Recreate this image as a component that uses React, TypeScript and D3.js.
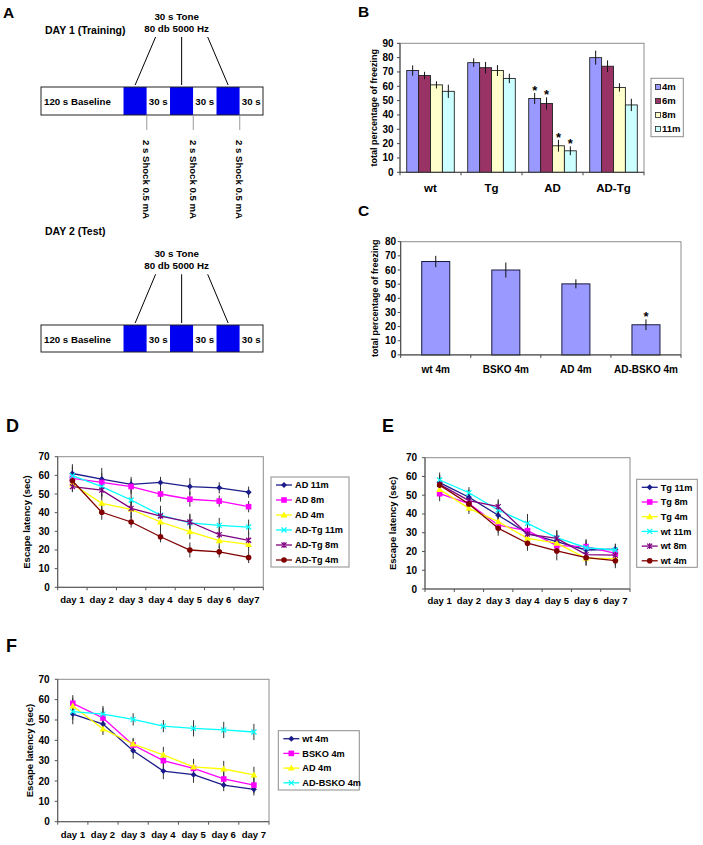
import React from "react";
import * as d3 from "d3";

const FONT = "'Liberation Sans', Arial, Helvetica, sans-serif";

// ---------- Panel A (protocol schematic) ----------
const protocolSegments = ["120 s Baseline", "tone", "30 s", "tone", "30 s", "tone", "30 s"];
const protocolWeights = [3.55, 1, 1, 1, 1, 1, 1];
const toneLines = ["30 s Tone", "80 db 5000 Hz"];
const shockLabel = "2 s Shock 0.5 mA";
const day1Title = "DAY 1 (Training)";
const day2Title = "DAY 2 (Test)";

// ---------- Panel B ----------
const bGroups = ["wt", "Tg", "AD", "AD-Tg"];
const bAges = ["4m", "6m", "8m", "11m"];
const b4m = [71, 76.5, 51.5, 80];
const b6m = [67.5, 73, 48, 74];
const b8m = [61, 71, 18.5, 59.2];
const b11m = [56.5, 65.5, 15, 47];
const b4mErr = [3.6, 3, 3.9, 4.9];
const b6mErr = [2.6, 4, 4.3, 4.1];
const b8mErr = [2.5, 3.8, 4.1, 2.9];
const b11mErr = [4.6, 3.3, 3.1, 4.3];
const bStarGroup = "AD";
const bColors = ["#9999FF", "#993366", "#FFFFCC", "#CCFFFF"];
const bTicks = [0, 10, 20, 30, 40, 50, 60, 70, 80, 90];

// ---------- Panel C ----------
const cGroups = ["wt 4m", "BSKO 4m", "AD 4m", "AD-BSKO 4m"];
const cValues = [66, 60, 50.2, 21.3];
const cErr = [4, 5.3, 3.2, 3.8];
const cStars = [false, false, false, true];
const cTicks = [0, 10, 20, 30, 40, 50, 60, 70, 80];

// ---------- Line panels ----------
const daysD = ["day 1", "day 2", "day 3", "day 4", "day 5", "day 6", "day7"];
const daysEF = ["day 1", "day 2", "day 3", "day 4", "day 5", "day 6", "day 7"];
const latencyTicks = [0, 10, 20, 30, 40, 50, 60, 70];

// Panel D
const dNames = ["AD 11m", "AD 8m", "AD 4m", "AD-Tg 11m", "AD-Tg 8m", "AD-Tg 4m"];
const dAD11 = [61, 58, 55.2, 56.2, 54, 53.3, 51];
const dAD8 = [58.4, 56.2, 54, 50, 47.2, 46.2, 43.2];
const dAD4 = [55.4, 45, 41.8, 35, 29.8, 25, 23];
const dADTg11 = [59.8, 54, 46.8, 38.7, 34.5, 33.2, 32.3];
const dADTg8 = [54, 52.1, 42.3, 38.2, 35, 28.2, 25.2];
const dADTg4 = [57.1, 40.2, 35, 27.1, 20, 19, 16];
const dAD11Err = [5, 6, 4, 3, 4.5, 3, 3];
const dAD8Err = [4, 5, 4, 4, 4, 3, 3];
const dAD4Err = [4, 5, 5, 5, 4, 4, 4];
const dADTg11Err = [5, 5, 5, 5, 5, 4, 4];
const dADTg8Err = [3, 4, 5, 4, 4, 4, 4];
const dADTg4Err = [4, 4, 3, 3, 4, 3, 3];

// Panel E
const eNames = ["Tg 11m", "Tg 8m", "Tg 4m", "wt 11m", "wt 8m", "wt 4m"];
const eTg11 = [56.7, 48.9, 39.3, 29.7, 25.2, 20.8, 21.2];
const eTg8 = [50.8, 45.5, 34, 31.1, 23.1, 22.6, 19];
const eTg4 = [53.1, 43, 35.9, 27, 24.4, 16.4, 16.2];
const eWt11 = [58.1, 51.3, 42.1, 35, 27.4, 22, 20.8];
const eWt8 = [55.8, 47.1, 43.9, 29.3, 27, 18.3, 18.1];
const eWt4 = [55.4, 45.3, 32.4, 24.4, 20.3, 16.7, 15.1];
const eTg11Err = [4, 4, 4, 4, 4, 4, 3];
const eTg8Err = [4, 4, 4, 4, 4, 4, 4];
const eTg4Err = [4, 3, 4, 4, 4, 4, 4];
const eWt11Err = [4, 3, 5, 5, 4, 4, 3];
const eWt8Err = [4, 4, 4, 4, 4, 4, 4];
const eWt4Err = [5, 4, 4, 4, 5, 4, 4];

// Panel F
const fNames = ["wt 4m", "BSKO 4m", "AD 4m", "AD-BSKO 4m"];
const fWt = [52.9, 48, 34.9, 24.9, 23.1, 18, 15.9];
const fBsko = [58.2, 51, 37.7, 30, 26.2, 21, 18];
const fAd = [56.9, 45.6, 38.2, 32.8, 26.9, 25.9, 23];
const fAdBsko = [54.1, 52.9, 50.3, 47, 45.9, 45.1, 44.1];
const fWtErr = [5, 4, 4, 4, 4, 3, 3];
const fBskoErr = [4, 5, 3, 4, 4, 4, 4];
const fAdErr = [4, 3, 3, 4, 4, 4, 4];
const fAdBskoErr = [4, 4, 3, 3, 4, 4, 4];

const lineColors = ["#1c1c8a", "#FF00FF", "#FFFF00", "#00FFFF", "#800080", "#800000"];
const lineMarkers = ["diamond", "square", "triangle", "x", "star", "circle"];

type Series = { name: string; values: number[]; errors: number[]; color: string; marker: string };

function Marker({ type, x, y, color }: { type: string; x: number; y: number; color: string }) {
  switch (type) {
    case "diamond":
      return <path d={`M${x},${y - 3}L${x + 3},${y}L${x},${y + 3}L${x - 3},${y}Z`} fill={color} />;
    case "square":
      return <rect x={x - 2.8} y={y - 2.8} width={5.6} height={5.6} fill={color} />;
    case "triangle":
      return <path d={`M${x},${y - 3.5}L${x + 3.5},${y + 2.5}L${x - 3.5},${y + 2.5}Z`} fill={color} />;
    case "x":
      return (
        <path d={`M${x - 2.5},${y - 2.5}L${x + 2.5},${y + 2.5}M${x - 2.5},${y + 2.5}L${x + 2.5},${y - 2.5}`} stroke={color} strokeWidth={1.2} />
      );
    case "star":
      return (
        <path
          d={`M${x - 2.5},${y - 2.5}L${x + 2.5},${y + 2.5}M${x - 2.5},${y + 2.5}L${x + 2.5},${y - 2.5}M${x},${y - 3}L${x},${y + 3}`}
          stroke={color}
          strokeWidth={1.2}
        />
      );
    case "circle":
      return <circle cx={x} cy={y} r={2.8} fill={color} />;
  }
  return null;
}

function Protocol({ y, h, title, titleY, toneY }: { y: number; h: number; title: string; titleY: number; toneY: number }) {
  const total = d3.sum(protocolWeights);
  const xs = d3.scaleLinear().domain([0, total]).range([41, 263]);
  let acc = 0;
  const segs = protocolSegments.map((s, i) => {
    const x0 = xs(acc);
    acc += protocolWeights[i];
    return { s, x0, x1: xs(acc) };
  });
  const blues = segs.filter((d) => d.s === "tone");
  const mid = (blues[1].x0 + blues[1].x1) / 2;
  return (
    <g fontFamily={FONT} fontWeight="bold">
      <text x={45} y={titleY} fontSize={10.5}>
        {title}
      </text>
      {toneLines.map((t, i) => (
        <text key={i} x={mid - 5} y={toneY + i * 11.6} textAnchor="middle" fontSize={9.8}>
          {t}
        </text>
      ))}
      {blues.map((b, i) => {
        const bc = (b.x0 + b.x1) / 2;
        return (
          <line key={i} x1={mid + (bc - mid) * 0.56} y1={toneY + 17} x2={bc} y2={y - 2} stroke="#000" strokeWidth={1} />
        );
      })}
      {segs.map((d, i) => (
        <rect key={i} x={d.x0} y={y} width={d.x1 - d.x0} height={h} fill={d.s === "tone" ? "#0000F0" : "#fff"} />
      ))}
      <rect x={41} y={y} width={222} height={h} fill="none" stroke="#222" strokeWidth={1} />
      {segs.map((d, i) =>
        d.s === "tone" ? null : (
          <text key={i} x={d.x0 + (i === 0 ? 3 : 2)} y={y + h / 2 + 4} fontSize={9.7}>
            {d.s}
          </text>
        )
      )}
    </g>
  );
}

function ShockMarks({ y, h }: { y: number; h: number }) {
  const total = d3.sum(protocolWeights);
  const xs = d3.scaleLinear().domain([0, total]).range([41, 263]);
  let acc = 0;
  const ends: number[] = [];
  protocolSegments.forEach((s, i) => {
    acc += protocolWeights[i];
    if (s === "tone") ends.push(xs(acc));
  });
  return (
    <g fontFamily={FONT} fontWeight="bold">
      {ends.map((e, i) => (
        <g key={i}>
          <line x1={e} x2={e} y1={y + h} y2={y + h + 15} stroke="#9a9a9a" strokeWidth={1} />
          <text transform={`translate(${e},${y + h + 25}) rotate(90)`} dy="0.35em" fontSize={9.6}>
            {shockLabel}
          </text>
        </g>
      ))}
    </g>
  );
}

function GroupedBars() {
  const left = 400, right = 644, top = 43.3, bottom = 172.3;
  const x0 = d3.scaleBand().domain(bGroups).range([left, right]).paddingInner(0.22).paddingOuter(0.11);
  const x1 = d3.scaleBand().domain(bAges).range([0, x0.bandwidth()]);
  const y = d3.scaleLinear().domain([0, 90]).range([bottom, top]);
  const vals = [b4m, b6m, b8m, b11m];
  const errs = [b4mErr, b6mErr, b8mErr, b11mErr];
  return (
    <g fontFamily={FONT} fontWeight="bold">
      <rect x={left} y={top} width={right - left} height={bottom - top} fill="#fff" stroke="#8c8c8c" />
      {bGroups.map((g, gi) =>
        bAges.map((a, ai) => {
          const bx = x0(g)! + x1(a)!;
          const v = vals[ai][gi];
          const e = errs[ai][gi];
          const cx = bx + x1.bandwidth() / 2;
          return (
            <g key={g + a}>
              <rect x={bx} y={y(v)} width={x1.bandwidth()} height={y(0) - y(v)} fill={bColors[ai]} stroke="#222" strokeWidth={0.9} />
              <line x1={cx} x2={cx} y1={y(v + e)} y2={y(v - e)} stroke="#111" strokeWidth={1} />
              {g === bStarGroup ? (
                <text x={cx} y={y(v + e) + 2} textAnchor="middle" fontSize={13}>
                  *
                </text>
              ) : null}
            </g>
          );
        })
      )}
      <line x1={left} x2={left} y1={top} y2={bottom} stroke="#444" />
      <line x1={left} x2={right} y1={bottom} y2={bottom} stroke="#444" />
      {bTicks.map((t) => (
        <g key={t}>
          <line x1={left - 3} x2={left} y1={y(t)} y2={y(t)} stroke="#444" />
          <text x={left - 6.5} y={y(t)} dy="0.35em" textAnchor="end" fontSize={10}>
            {t}
          </text>
        </g>
      ))}
      {d3.range(bGroups.length + 1).map((i) => {
        const xx = left + (right - left) * (i / bGroups.length);
        return <line key={i} x1={xx} x2={xx} y1={bottom} y2={bottom + 3} stroke="#444" />;
      })}
      {bGroups.map((g) => (
        <text key={g} x={x0(g)! + x0.bandwidth() / 2} y={192} textAnchor="middle" fontSize={11.5}>
          {g}
        </text>
      ))}
      <text transform={`translate(374,${(top + bottom) / 2}) rotate(-90)`} dy="0.35em" textAnchor="middle" fontSize={9}>
        total percentage of freezing
      </text>
      <rect x={651} y={78.3} width={32.3} height={58.4} fill="#fff" stroke="#8c8c8c" />
      {bAges.map((a, i) => (
        <g key={a}>
          <rect x={655.5} y={87 + i * 14 - 2.5} width={5} height={5} fill={bColors[i]} stroke="#222" strokeWidth={0.8} />
          <text x={662} y={87 + i * 14} dy="0.35em" fontSize={9.5}>
            {a}
          </text>
        </g>
      ))}
    </g>
  );
}

function SingleBars() {
  const left = 400.7, right = 681, top = 241.7, bottom = 354.9;
  const x = d3.scaleBand().domain(cGroups).range([left, right]).paddingInner(0.6).paddingOuter(0.3);
  const y = d3.scaleLinear().domain([0, 80]).range([bottom, top]);
  return (
    <g fontFamily={FONT} fontWeight="bold">
      <rect x={left} y={top} width={right - left} height={bottom - top} fill="#fff" stroke="#8c8c8c" />
      {cGroups.map((g, i) => {
        const cx = x(g)! + x.bandwidth() / 2;
        const v = cValues[i];
        const e = cErr[i];
        return (
          <g key={g}>
            <rect x={x(g)} y={y(v)} width={x.bandwidth()} height={y(0) - y(v)} fill="#9999FF" stroke="#1a1a40" strokeWidth={1} />
            <line x1={cx} x2={cx} y1={y(v + e)} y2={y(v - e)} stroke="#111" />
            {cStars[i] ? (
              <text x={cx} y={y(v + e) + 1.5} textAnchor="middle" fontSize={13}>
                *
              </text>
            ) : null}
          </g>
        );
      })}
      <line x1={left} x2={left} y1={top} y2={bottom} stroke="#444" />
      <line x1={left} x2={right} y1={bottom} y2={bottom} stroke="#444" />
      {cTicks.map((t) => (
        <g key={t}>
          <line x1={left - 3} x2={left} y1={y(t)} y2={y(t)} stroke="#444" />
          <text x={left - 4.5} y={y(t)} dy="0.35em" textAnchor="end" fontSize={10}>
            {t}
          </text>
        </g>
      ))}
      {d3.range(cGroups.length + 1).map((i) => {
        const xx = left + (right - left) * (i / cGroups.length);
        return <line key={i} x1={xx} x2={xx} y1={bottom} y2={bottom + 3} stroke="#444" />;
      })}
      {cGroups.map((g) => (
        <text key={g} x={x(g)! + x.bandwidth() / 2} y={bottom + 18} textAnchor="middle" fontSize={10}>
          {g}
        </text>
      ))}
      <text transform={`translate(375,${(top + bottom) / 2}) rotate(-90)`} dy="0.35em" textAnchor="middle" fontSize={9}>
        total percentage of freezing
      </text>
    </g>
  );
}

type LCProps = {
  left: number;
  right: number;
  top: number;
  bottom: number;
  labels: string[];
  series: Series[];
  legend: { x: number; y: number; w: number; h: number; first: number; row: number };
  yLabelX: number;
  xLabelY: number;
};

function LineChart({ left, right, top, bottom, labels, series, legend, yLabelX, xLabelY }: LCProps) {
  const x = d3.scaleBand().domain(labels).range([left, right]);
  const y = d3.scaleLinear().domain([0, 70]).range([bottom, top]);
  const cx = (i: number) => x(labels[i])! + x.bandwidth() / 2;
  const line = d3
    .line<number>()
    .x((_, i) => cx(i))
    .y((d) => y(d));
  return (
    <g fontFamily={FONT} fontWeight="bold">
      <rect x={left} y={top} width={right - left} height={bottom - top} fill="#fff" stroke="#8c8c8c" />
      {series.map((s) => (
        <g key={s.name}>
          {s.values.map((v, i) => (
            <line key={i} x1={cx(i)} x2={cx(i)} y1={y(v + s.errors[i])} y2={y(v - s.errors[i])} stroke="#333" strokeWidth={1} />
          ))}
        </g>
      ))}
      {series.map((s) => (
        <g key={s.name}>
          <path d={line(s.values)!} fill="none" stroke={s.color} strokeWidth={1.3} />
          {s.values.map((v, i) => (
            <Marker key={i} type={s.marker} x={cx(i)} y={y(v)} color={s.color} />
          ))}
        </g>
      ))}
      <line x1={left} x2={left} y1={top} y2={bottom} stroke="#555" />
      <line x1={left} x2={right} y1={bottom} y2={bottom} stroke="#555" />
      {latencyTicks.map((t) => (
        <g key={t}>
          <line x1={left - 3} x2={left} y1={y(t)} y2={y(t)} stroke="#555" />
          <text x={left - 8} y={y(t)} dy="0.35em" textAnchor="end" fontSize={10}>
            {t}
          </text>
        </g>
      ))}
      {d3.range(labels.length + 1).map((i) => {
        const xx = left + x.step() * i;
        return <line key={i} x1={xx} x2={xx} y1={bottom} y2={bottom + 3} stroke="#555" />;
      })}
      {labels.map((l) => (
        <text key={l} x={x(l)! + x.bandwidth() / 2} y={xLabelY} textAnchor="middle" fontSize={9.5}>
          {l}
        </text>
      ))}
      <text
        transform={`translate(${yLabelX},${(top + bottom) / 2}) rotate(-90)`}
        dy="0.35em"
        textAnchor="middle"
        fontSize={9.5}
      >
        Escape latency (sec)
      </text>
      <rect x={legend.x} y={legend.y} width={legend.w} height={legend.h} fill="#fff" stroke="#8c8c8c" />
      {series.map((s, i) => {
        const ly = legend.first + i * legend.row;
        const lx = legend.x + 5;
        return (
          <g key={s.name}>
            <line x1={lx} x2={lx + 16} y1={ly} y2={ly} stroke={s.color} strokeWidth={1.3} />
            <Marker type={s.marker} x={lx + 8} y={ly} color={s.color} />
            <text x={lx + 19} y={ly} dy="0.35em" fontSize={9.2}>
              {s.name}
            </text>
          </g>
        );
      })}
    </g>
  );
}

function makeSeries(names: string[], values: number[][], errors: number[][]): Series[] {
  return names.map((n, i) => ({
    name: n,
    values: values[i],
    errors: errors[i],
    color: lineColors[i],
    marker: lineMarkers[i],
  }));
}

export default function App() {
  const dSeries = makeSeries(
    dNames,
    [dAD11, dAD8, dAD4, dADTg11, dADTg8, dADTg4],
    [dAD11Err, dAD8Err, dAD4Err, dADTg11Err, dADTg8Err, dADTg4Err]
  );
  const eSeries = makeSeries(
    eNames,
    [eTg11, eTg8, eTg4, eWt11, eWt8, eWt4],
    [eTg11Err, eTg8Err, eTg4Err, eWt11Err, eWt8Err, eWt4Err]
  );
  const fSeries = makeSeries(fNames, [fWt, fBsko, fAd, fAdBsko], [fWtErr, fBskoErr, fAdErr, fAdBskoErr]);
  return (
    <svg
      width={703}
      height={845}
      style={{ position: "absolute", left: 0, top: 0, background: "#fff" }}
      fontFamily={FONT}
    >
      <rect width={703} height={845} fill="#fff" />
      <g fontWeight="bold" fontFamily={FONT}>
        <text x={3} y={18} fontSize={15.5}>A</text>
        <text x={358} y={17} fontSize={15.5}>B</text>
        <text x={358} y={216} fontSize={15.5}>C</text>
        <text x={6} y={432} fontSize={18}>D</text>
        <text x={382} y={432} fontSize={18}>E</text>
        <text x={6} y={652} fontSize={18}>F</text>
      </g>
      <Protocol y={87} h={28} title={day1Title} titleY={34} toneY={20} />
      <ShockMarks y={87} h={28} />
      <Protocol y={325} h={27} title={day2Title} titleY={235} toneY={257.3} />
      <GroupedBars />
      <SingleBars />
      <LineChart
        left={57.7}
        right={263.3}
        top={456.7}
        bottom={587.3}
        labels={daysD}
        series={dSeries}
        legend={{ x: 271, y: 477, w: 78, h: 90, first: 485, row: 15 }}
        yLabelX={27}
        xLabelY={603}
      />
      <LineChart
        left={425}
        right={630}
        top={457.7}
        bottom={589}
        labels={daysEF}
        series={eSeries}
        legend={{ x: 636.7, y: 479.3, w: 60.6, h: 88, first: 487.3, row: 14.7 }}
        yLabelX={393}
        xLabelY={604}
      />
      <LineChart
        left={57.7}
        right={269}
        top={679.3}
        bottom={821.7}
        labels={daysEF}
        series={fSeries}
        legend={{ x: 278.3, y: 730.7, w: 81, h: 59.3, first: 738.7, row: 14.7 }}
        yLabelX={29.3}
        xLabelY={838}
      />
    </svg>
  );
}
